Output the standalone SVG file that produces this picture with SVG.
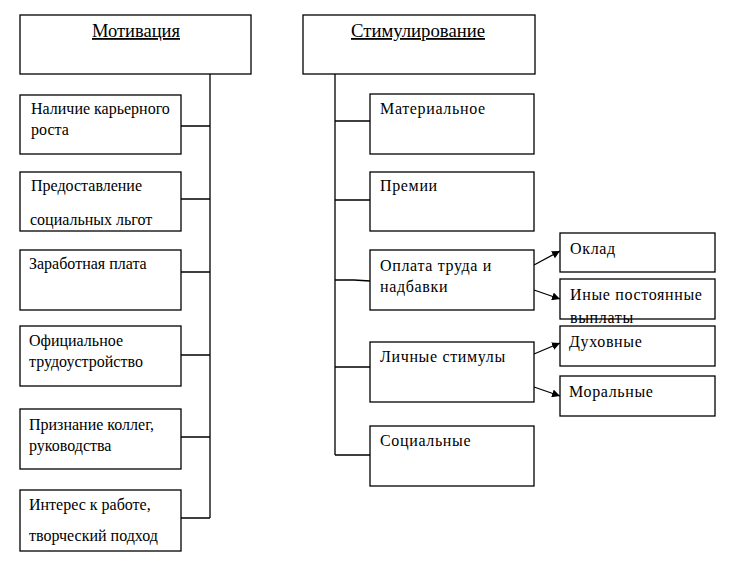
<svg xmlns="http://www.w3.org/2000/svg" width="739" height="582" viewBox="0 0 739 582">
<style>
.b{fill:#fff;stroke:#000;stroke-width:1.3}
.t{font-family:"Liberation Serif","Times New Roman",serif;font-size:16px;fill:#000}
.s{letter-spacing:0.65px}
.h{font-family:"Liberation Serif","Times New Roman",serif;font-size:18px;fill:#000;text-decoration:underline}
.c{fill:none;stroke:#000;stroke-width:1.3}
</style>
<defs>
<marker id="ar" viewBox="0 0 10 10" refX="10" refY="5" markerWidth="8" markerHeight="8" markerUnits="userSpaceOnUse" orient="auto">
<path d="M0,0L10,5L0,10z" fill="#000"/>
</marker>
</defs>
<rect width="739" height="582" fill="#fff"/>
<g id="connectors">
<path class="c" d="M210,74V518M181,126H210M181,199H210M181,272H210M181,355H210M181,437H210M181,518H210"/>
<path class="c" d="M335,74V455M335,121H370M335,200H370M335,280H354L370,281M335,367H370M335,455H370"/>
<path class="c" marker-end="url(#ar)" d="M534,265L560,251"/>
<path class="c" marker-end="url(#ar)" d="M534,290L560,299"/>
<path class="c" marker-end="url(#ar)" d="M534,354L560,343"/>
<path class="c" marker-end="url(#ar)" d="M534,387L560,396"/>
</g>
<g id="motivation"><rect class="b" x="20" y="15" width="231" height="59"/><text class="h" x="92" y="37" textLength="88" lengthAdjust="spacingAndGlyphs">Мотивация</text></g>
<g id="m1"><rect class="b" x="20" y="95" width="161" height="59"/><text class="t" x="31" y="114">Наличие карьерного</text><text class="t" x="31" y="135">роста</text></g>
<g id="m2"><rect class="b" x="20" y="172" width="161" height="59"/><text class="t" x="31" y="191">Предоставление</text><text class="t" x="30" y="225">социальных льгот</text></g>
<g id="m3"><rect class="b" x="20" y="250" width="161" height="60"/><text class="t" x="29" y="269">Заработная плата</text></g>
<g id="m4"><rect class="b" x="20" y="326" width="161" height="60"/><text class="t" x="29" y="346">Официальное</text><text class="t" x="29" y="367">трудоустройство</text></g>
<g id="m5"><rect class="b" x="20" y="409" width="161" height="60"/><text class="t" x="29" y="430">Признание коллег,</text><text class="t" x="29" y="451">руководства</text></g>
<g id="m6"><rect class="b" x="20" y="490" width="161" height="61"/><text class="t" x="29" y="510">Интерес к работе,</text><text class="t" x="29" y="541">творческий подход</text></g>
<g id="stimulation"><rect class="b" x="303" y="15" width="232" height="59"/><text class="h" x="351" y="37" textLength="134" lengthAdjust="spacingAndGlyphs">Стимулирование</text></g>
<g id="s1"><rect class="b" x="370" y="94" width="164" height="60"/><text class="t s" x="380" y="114">Материальное</text></g>
<g id="s2"><rect class="b" x="370" y="172" width="164" height="59"/><text class="t s" x="380" y="191">Премии</text></g>
<g id="s3"><rect class="b" x="370" y="250" width="164" height="60"/><text class="t s" x="380" y="271">Оплата труда и</text><text class="t s" x="380" y="292">надбавки</text></g>
<g id="s4"><rect class="b" x="370" y="342" width="164" height="60"/><text class="t s" x="380" y="362">Личные стимулы</text></g>
<g id="s5"><rect class="b" x="370" y="426" width="164" height="60"/><text class="t s" x="380" y="446">Социальные</text></g>
<g id="r1"><rect class="b" x="560" y="233" width="155" height="39"/><text class="t s" x="570" y="254">Оклад</text></g>
<g id="r2"><rect class="b" x="560" y="279" width="155" height="40"/><text class="t s" x="570" y="300">Иные постоянные</text><text class="t s" x="570" y="323">выплаты</text></g>
<g id="r3"><rect class="b" x="560" y="326" width="155" height="40"/><text class="t s" x="569" y="347">Духовные</text></g>
<g id="r4"><rect class="b" x="560" y="376" width="155" height="40"/><text class="t s" x="569" y="397">Моральные</text></g>
</svg>
